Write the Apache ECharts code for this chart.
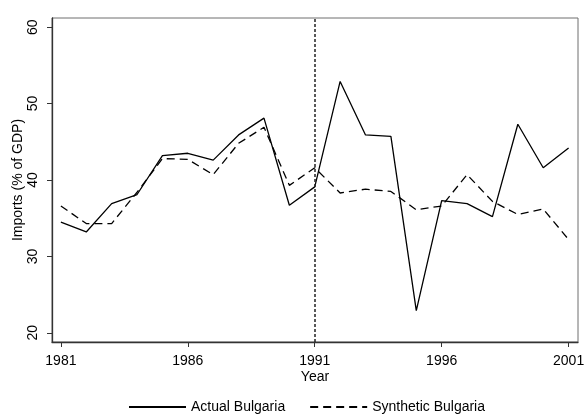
<!DOCTYPE html>
<html>
<head>
<meta charset="utf-8">
<script src="https://cdn.jsdelivr.net/npm/echarts@6/dist/echarts.min.js"></script>
<style>
  html, body { margin: 0; padding: 0; background: #fff; }
  #chart { width: 585px; height: 415px; }
</style>
</head>
<body>
<div id="chart"></div>
<script>
var years = [1981, 1982, 1983, 1984, 1985, 1986, 1987, 1988, 1989, 1990, 1991,
             1992, 1993, 1994, 1995, 1996, 1997, 1998, 1999, 2000, 2001];
var actual = [34.5, 33.2, 36.9, 38.1, 43.2, 43.5, 42.6, 45.9, 48.1, 36.7, 39.1,
              52.9, 45.9, 45.7, 22.9, 37.3, 36.9, 35.2, 47.3, 41.6, 44.2];
var synthetic = [36.6, 34.3, 34.3, 38.4, 42.8, 42.7, 40.7, 44.8, 46.9, 39.3, 41.6,
                 38.3, 38.8, 38.5, 36.1, 36.6, 40.7, 37.2, 35.5, 36.2, 32.2];
var xTicks = [1981, 1986, 1991, 1996, 2001];
var yTicks = [20, 30, 40, 50, 60];
var treatYear = 1991;

function pairs(ys) {
    var out = [];
    for (var i = 0; i < years.length; i++) {
        out.push([years[i], ys[i]]);
    }
    return out;
}

var chart = echarts.init(document.getElementById('chart'));
var font = 'Liberation Sans, Arial, sans-serif';

var option = {
    animation: false,
    textStyle: { fontFamily: font },
    grid: {
        left: 52, top: 18, right: 7, bottom: 73,
        outerBoundsMode: 'none',
        containLabel: false,
        show: true, borderColor: '#6e6e6e', borderWidth: 1
    },
    xAxis: {
        type: 'value',
        min: 1980.65, max: 2001.37,
        name: 'Year',
        nameLocation: 'middle',
        nameGap: 28,
        nameMoveOverlap: false,
        nameTextStyle: { color: '#000', fontSize: 14, fontFamily: font },
        axisLine: { show: true, lineStyle: { color: '#333', width: 1.3 } },
        axisTick: { show: true, length: 5, customValues: xTicks, lineStyle: { color: '#333' } },
        axisLabel: {
            customValues: xTicks, color: '#000', fontSize: 14, margin: 12, fontFamily: font,
            formatter: function (v) { return String(v); }
        },
        splitLine: { show: false }
    },
    yAxis: {
        type: 'value',
        min: 18.8, max: 61.2,
        name: 'Imports (% of GDP)',
        nameLocation: 'middle',
        nameRotate: 90,
        nameGap: 27,
        nameMoveOverlap: false,
        nameTextStyle: { color: '#000', fontSize: 14, fontFamily: font },
        axisLine: { show: true, lineStyle: { color: '#333', width: 1.3 } },
        axisTick: { show: true, length: 5, customValues: yTicks, lineStyle: { color: '#333' } },
        axisLabel: { customValues: yTicks, rotate: 90, color: '#000', fontSize: 14, margin: 12, fontFamily: font },
        splitLine: { show: false }
    },
    legend: {
        left: 123, top: 395,
        itemWidth: 57, itemHeight: 14, itemGap: 24,
        itemStyle: { opacity: 0 },
        textStyle: { color: '#000', fontSize: 14, fontFamily: font },
        data: ['Actual Bulgaria', 'Synthetic Bulgaria']
    },
    series: [
        {
            name: 'Actual Bulgaria',
            type: 'line',
            symbol: 'none',
            data: pairs(actual),
            lineStyle: { color: '#000', width: 1.3 },
            itemStyle: { color: '#000' },
            markLine: {
                silent: true,
                symbol: 'none',
                label: { show: false },
                lineStyle: { color: '#222', type: [3, 2], width: 1.5 },
                data: [{ xAxis: treatYear }]
            }
        },
        {
            name: 'Synthetic Bulgaria',
            type: 'line',
            symbol: 'none',
            data: pairs(synthetic),
            lineStyle: { color: '#000', width: 1.3, type: [8, 5] },
            itemStyle: { color: '#000' }
        }
    ]
};

chart.setOption(option);
</script>
</body>
</html>
